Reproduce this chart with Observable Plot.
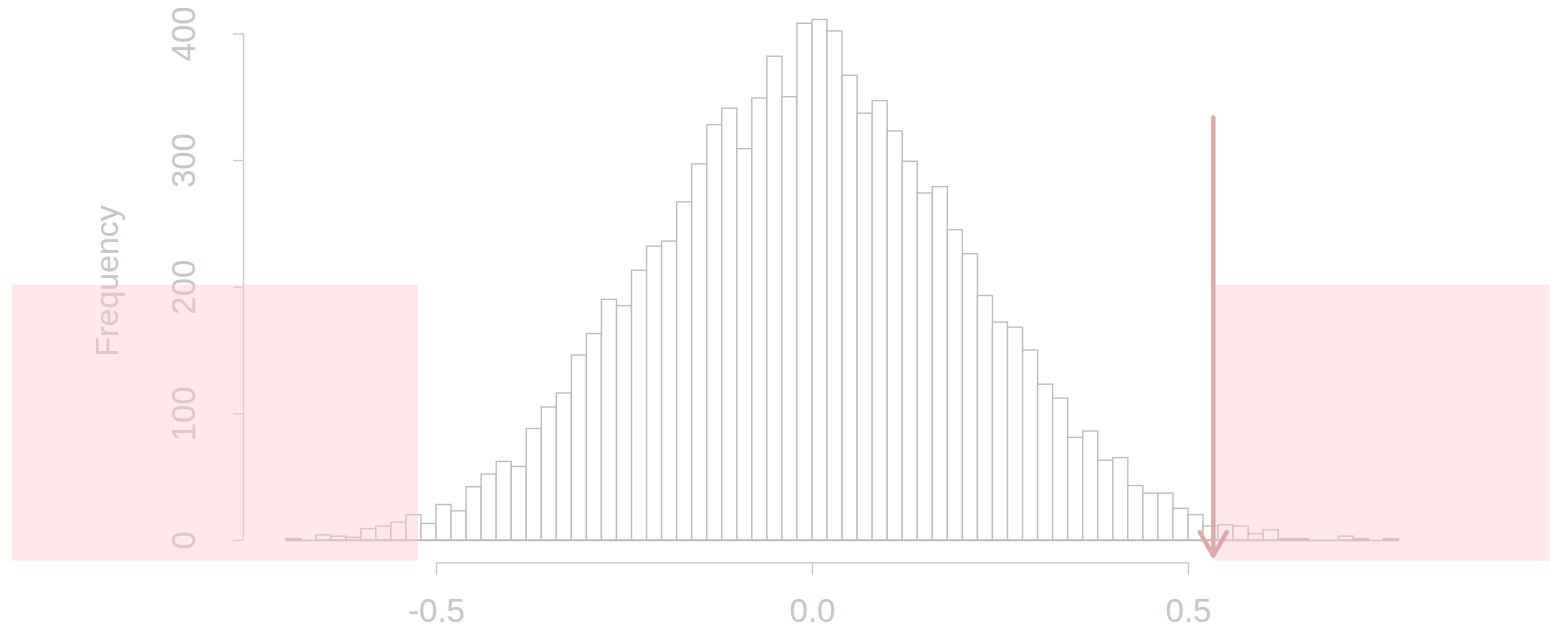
<!DOCTYPE html>
<html>
<head>
<meta charset="utf-8">
<script src="https://cdn.jsdelivr.net/npm/d3@7"></script>
<script src="https://cdn.jsdelivr.net/npm/@observablehq/plot@0.6"></script>
<style>
  html, body { margin: 0; padding: 0; background: #fff; }
  svg { display: block; }
</style>
</head>
<body>
<div id="chart"></div>
<script>
// Histogram bins (left edges start at -0.70, width 0.02)
const binStart = -0.70;
const binWidth = 0.02;
const counts = [
  1, 0, 4, 3, 2, 9, 11, 14, 20, 13,
  28, 23, 42, 52, 62, 58, 88, 105, 116, 146,
  163, 190, 185, 213, 232, 236, 267, 297, 328, 341,
  309, 349, 382, 350, 408, 411, 402, 367, 337, 347,
  323, 299, 274, 279, 245, 226, 193, 172, 168, 150,
  123, 112, 81, 86, 63, 65, 43, 37, 37, 25,
  20, 11, 12, 11, 5, 8, 1, 1, 0, 0,
  3, 1, 0, 1
];
const xTicks = [-0.5, 0.0, 0.5];
const yTicks = [0, 100, 200, 300, 400];
const yLabel = "Frequency";
// Shaded rejection regions and the observed value marker
const regionLeft = [-1.064, -0.524];
const regionRight = [0.533, 0.981];
const regionTop = 201.6;
const observed = 0.533;
const arrowTop = 334;
const arrowBottom = -12;

const xDomain = [-0.76, 0.86];
const yDomain = [-16.4, 426.4];

const bins = counts.map((c, i) => ({
  x1: +(binStart + i * binWidth).toFixed(2),
  x2: +(binStart + (i + 1) * binWidth).toFixed(2),
  count: c
}));
const regions = [
  {x1: regionLeft[0], x2: regionLeft[1]},
  {x1: regionRight[0], x2: regionRight[1]}
];

const axisColor = "#cbcbcb";
const textColor = "#c6c6c6";
const tickFont = 33;
const labelFont = 32;

const chart = Plot.plot({
  width: 1550,
  height: 634,
  marginLeft: 240.5,
  marginRight: 91.3,
  marginTop: 0,
  marginBottom: 73.3,
  style: {fontFamily: "'Liberation Sans', Arial, Helvetica, sans-serif", background: "#fff"},
  x: {domain: xDomain},
  y: {domain: yDomain},
  marks: [
    Plot.rectY(bins, {x1: "x1", x2: "x2", y1: 0, y2: "count", fill: "white", stroke: "#bdbdbd", strokeWidth: 1.4}),
    // baseline under the bins (zero-count bins drawn as flat lines)
    Plot.ruleY([0], {x1: bins[0].x1, x2: bins[bins.length - 1].x2, stroke: "#bdbdbd", strokeWidth: 1.4}),
    // x axis
    Plot.ruleY([yDomain[0]], {x1: xTicks[0], x2: xTicks[xTicks.length - 1], stroke: axisColor, strokeWidth: 1.4, dy: 1.5}),
    Plot.axisX({ticks: xTicks, tickSize: 13, tickPadding: 23, tickFormat: d => d.toFixed(1), stroke: axisColor, strokeWidth: 1.4, color: textColor, fontSize: tickFont, label: null, dy: 1.5}),
    // y axis
    Plot.ruleX([xDomain[0]], {y1: yTicks[0], y2: yTicks[yTicks.length - 1], stroke: axisColor, strokeWidth: 1.4, dx: 2.5}),
    Plot.axisY({ticks: yTicks, tickSize: 10, tickRotate: -90, tickPadding: 39, stroke: axisColor, strokeWidth: 1.4, color: textColor, fontSize: tickFont, label: null, dx: 2.5}),
    Plot.text([yLabel], {frameAnchor: "left", dx: -133, rotate: -90, fill: textColor, fontSize: labelFont, textAnchor: "middle", lineAnchor: "middle"}),
    // shaded regions (translucent)
    Plot.rect(regions, {x1: "x1", x2: "x2", y1: yDomain[0], y2: regionTop, fill: "#fbcaca", fillOpacity: 0.42}),
    // arrow for observed value
    Plot.arrow([observed], {x1: d => d, x2: d => d, y1: arrowTop, y2: arrowBottom, stroke: "#dcaaaa", strokeWidth: 4.5, headLength: 9, bend: 0})
  ]
});
document.getElementById("chart").appendChild(chart);
</script>
</body>
</html>
